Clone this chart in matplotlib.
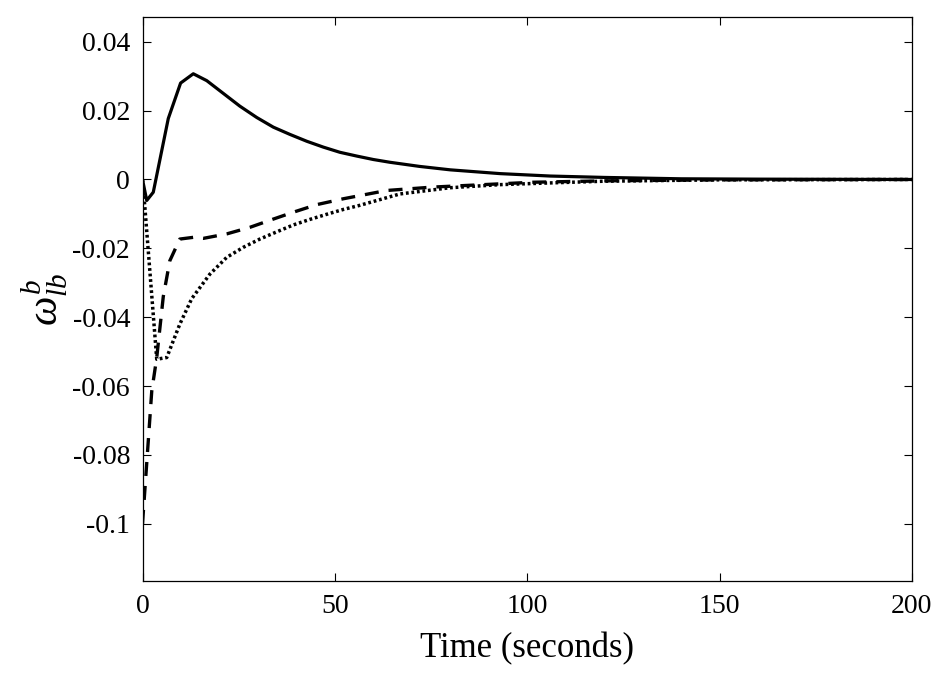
import matplotlib
matplotlib.use("Agg")
import matplotlib.pyplot as plt
import numpy as np

plt.rcParams['font.family'] = ['Liberation Serif', 'DejaVu Serif']
plt.rcParams['mathtext.fontset'] = 'custom'
plt.rcParams['mathtext.rm'] = 'Liberation Serif'
plt.rcParams['mathtext.it'] = 'Liberation Serif:italic'

# solid curve
t_solid = [0, 1.1, 2.8, 6.7, 9.9, 13.2, 16.7, 21.0, 25.3, 29.7, 34.0, 38.3, 42.7, 47.0, 51.3,
           55.7, 60.0, 64.3, 72, 80, 93, 106, 120, 140, 160, 200]
w_solid = [0.0, -0.0061, -0.0037, 0.0177, 0.0280, 0.0307, 0.0287, 0.0250, 0.0213, 0.0180, 0.0152,
           0.0131, 0.0111, 0.0094, 0.0079, 0.0068, 0.0058, 0.0050, 0.0038, 0.0028, 0.0017,
           0.0010, 0.0006, 0.0002, 0.0001, 0.0]

# dashed curve
t_dash = [0, 2.4, 3.7, 5.4, 7.1, 9.7, 13.2, 15.8, 21.9, 27.9, 34.0, 39.2, 45.3, 52.2, 63.4, 75.5,
          88.5, 101.5, 120, 150, 200]
w_dash = [-0.1, -0.0615, -0.0517, -0.034, -0.0236, -0.0173, -0.0168, -0.0171, -0.0158, -0.0139,
          -0.0115, -0.0095, -0.0073, -0.0056, -0.0032, -0.0022, -0.0015, -0.0008, -0.0004, -0.0001, 0.0]

# dotted curve
t_dot = [0, 0.4, 3.7, 6.3, 9.7, 12.8, 17.5, 21.9, 26.2, 30.5, 34.9, 39.2, 43.5, 47.9, 52.2, 56.5,
         66.9, 79.9, 92.9, 105.9, 120, 150, 200]
w_dot = [0.0, -0.005, -0.0522, -0.0517, -0.042, -0.0346, -0.0275, -0.0226, -0.0197, -0.0173, -0.0152,
         -0.0132, -0.0116, -0.0101, -0.0087, -0.0075, -0.0042, -0.0024, -0.0015, -0.001, -0.0005,
         -0.0001, 0.0]

xticks = [0, 50, 100, 150, 200]
yticks = [-0.1, -0.08, -0.06, -0.04, -0.02, 0, 0.02, 0.04]
ytick_labels = ['-0.1', '-0.08', '-0.06', '-0.04', '-0.02', '0', '0.02', '0.04']

fig = plt.figure(figsize=(9.45, 6.73), dpi=100)
ax = fig.add_axes([0.1508, 0.1367, 0.965 - 0.1508, 0.9743 - 0.1367])

ax.plot(t_solid, w_solid, color='k', lw=2.3, ls='-')
ax.plot(t_dash, w_dash, color='k', lw=2.4, ls=(0, (4.2, 3.0)))
ax.plot(t_dot, w_dot, color='k', lw=2.5, ls=(0, (0.8, 0.8)))

ax.set_xlim(0, 200)
ax.set_ylim(-0.1166, 0.0471)
ax.set_xticks(xticks)
ax.set_xticklabels([str(v) for v in xticks])
ax.set_yticks(yticks)
ax.set_yticklabels(ytick_labels)
ax.tick_params(direction='in', length=6, width=0.8, labelsize=20, top=True, right=True, pad=9)
for s in ax.spines.values():
    s.set_linewidth(0.9)

ax.set_xlabel('Time (seconds)', fontsize=25, labelpad=10)
ax.set_ylabel(r'$\omega^{b}_{lb}$', fontsize=30, labelpad=2)

fig.savefig('out.png', dpi=100)
